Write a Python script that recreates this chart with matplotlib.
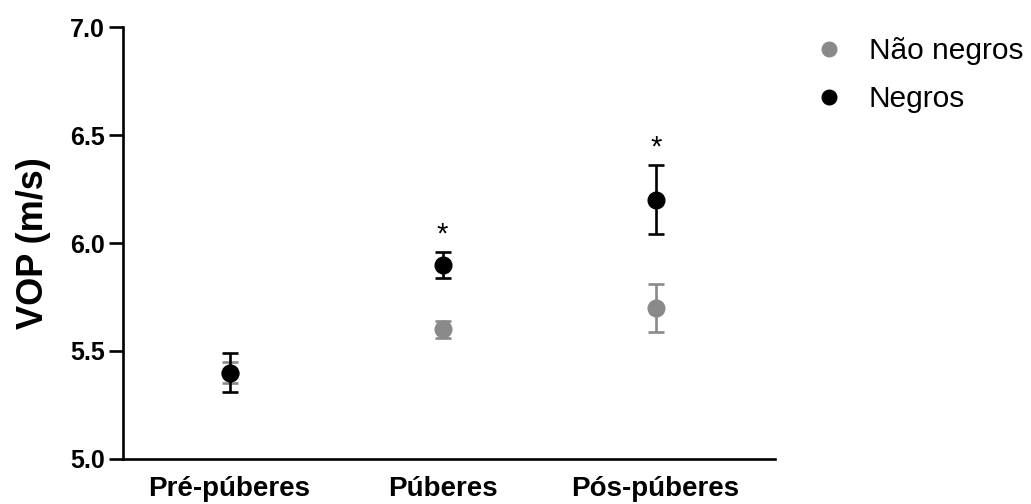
import matplotlib
matplotlib.use("Agg")
import matplotlib.pyplot as plt
from matplotlib.lines import Line2D

categories = ["Pré-púberes", "Púberes", "Pós-púberes"]
nao_negros = [5.40, 5.60, 5.70]
nao_negros_err = [0.05, 0.04, 0.11]
negros = [5.40, 5.90, 6.20]
negros_err = [0.09, 0.06, 0.16]
stars = ["", "*", "*"]
yticks = [5.0, 5.5, 6.0, 6.5, 7.0]

plt.rcParams['font.family'] = ['Liberation Sans', 'DejaVu Sans']

fig = plt.figure(figsize=(10.31, 5.04), dpi=100)
ax = fig.add_axes([0.1193, 0.0893, 0.6324, 0.8571])

x = list(range(len(categories)))
gray = "#8a8a8a"
ax.errorbar(x, nao_negros, yerr=nao_negros_err, fmt='o', color=gray, ecolor=gray,
            markersize=12, elinewidth=1.9, capsize=6, capthick=1.9, zorder=3,
            clip_on=False)
ax.errorbar(x, negros, yerr=negros_err, fmt='o', color='black', ecolor='black',
            markersize=12, elinewidth=1.9, capsize=6, capthick=1.9, zorder=4,
            clip_on=False)

for xi, v, e, s in zip(x, negros, negros_err, stars):
    if s:
        ax.text(xi, v + e + 0.015, s, ha='center', va='bottom', fontsize=21)

ax.set_xlim(-0.5, 2.56)
ax.set_ylim(5.0, 7.0)
ax.set_yticks(yticks)
ax.set_yticklabels([f"{t:.1f}" for t in yticks], fontsize=18, fontweight='bold')
ax.set_xticks(x)
ax.set_xticklabels(categories, fontsize=20, fontweight='bold')
ax.tick_params(axis='x', length=0, pad=12)
ax.tick_params(axis='y', length=10, width=1.9, direction='out', pad=3)
ax.set_ylabel("VOP (m/s)", fontsize=26, fontweight='bold', labelpad=14)

for sp in ['top', 'right']:
    ax.spines[sp].set_visible(False)
for sp in ['left', 'bottom']:
    ax.spines[sp].set_linewidth(1.9)

handles = [Line2D([], [], marker='o', linestyle='none', color=gray, markersize=10.5),
           Line2D([], [], marker='o', linestyle='none', color='black', markersize=10.5)]
fig.legend(handles, ["Não negros", "Negros"], loc='upper left',
           bbox_to_anchor=(0.764, 0.98), frameon=False, fontsize=21.5,
           handlelength=1.0, handletextpad=0.81, labelspacing=0.68)

fig.savefig("out.png", dpi=100)
